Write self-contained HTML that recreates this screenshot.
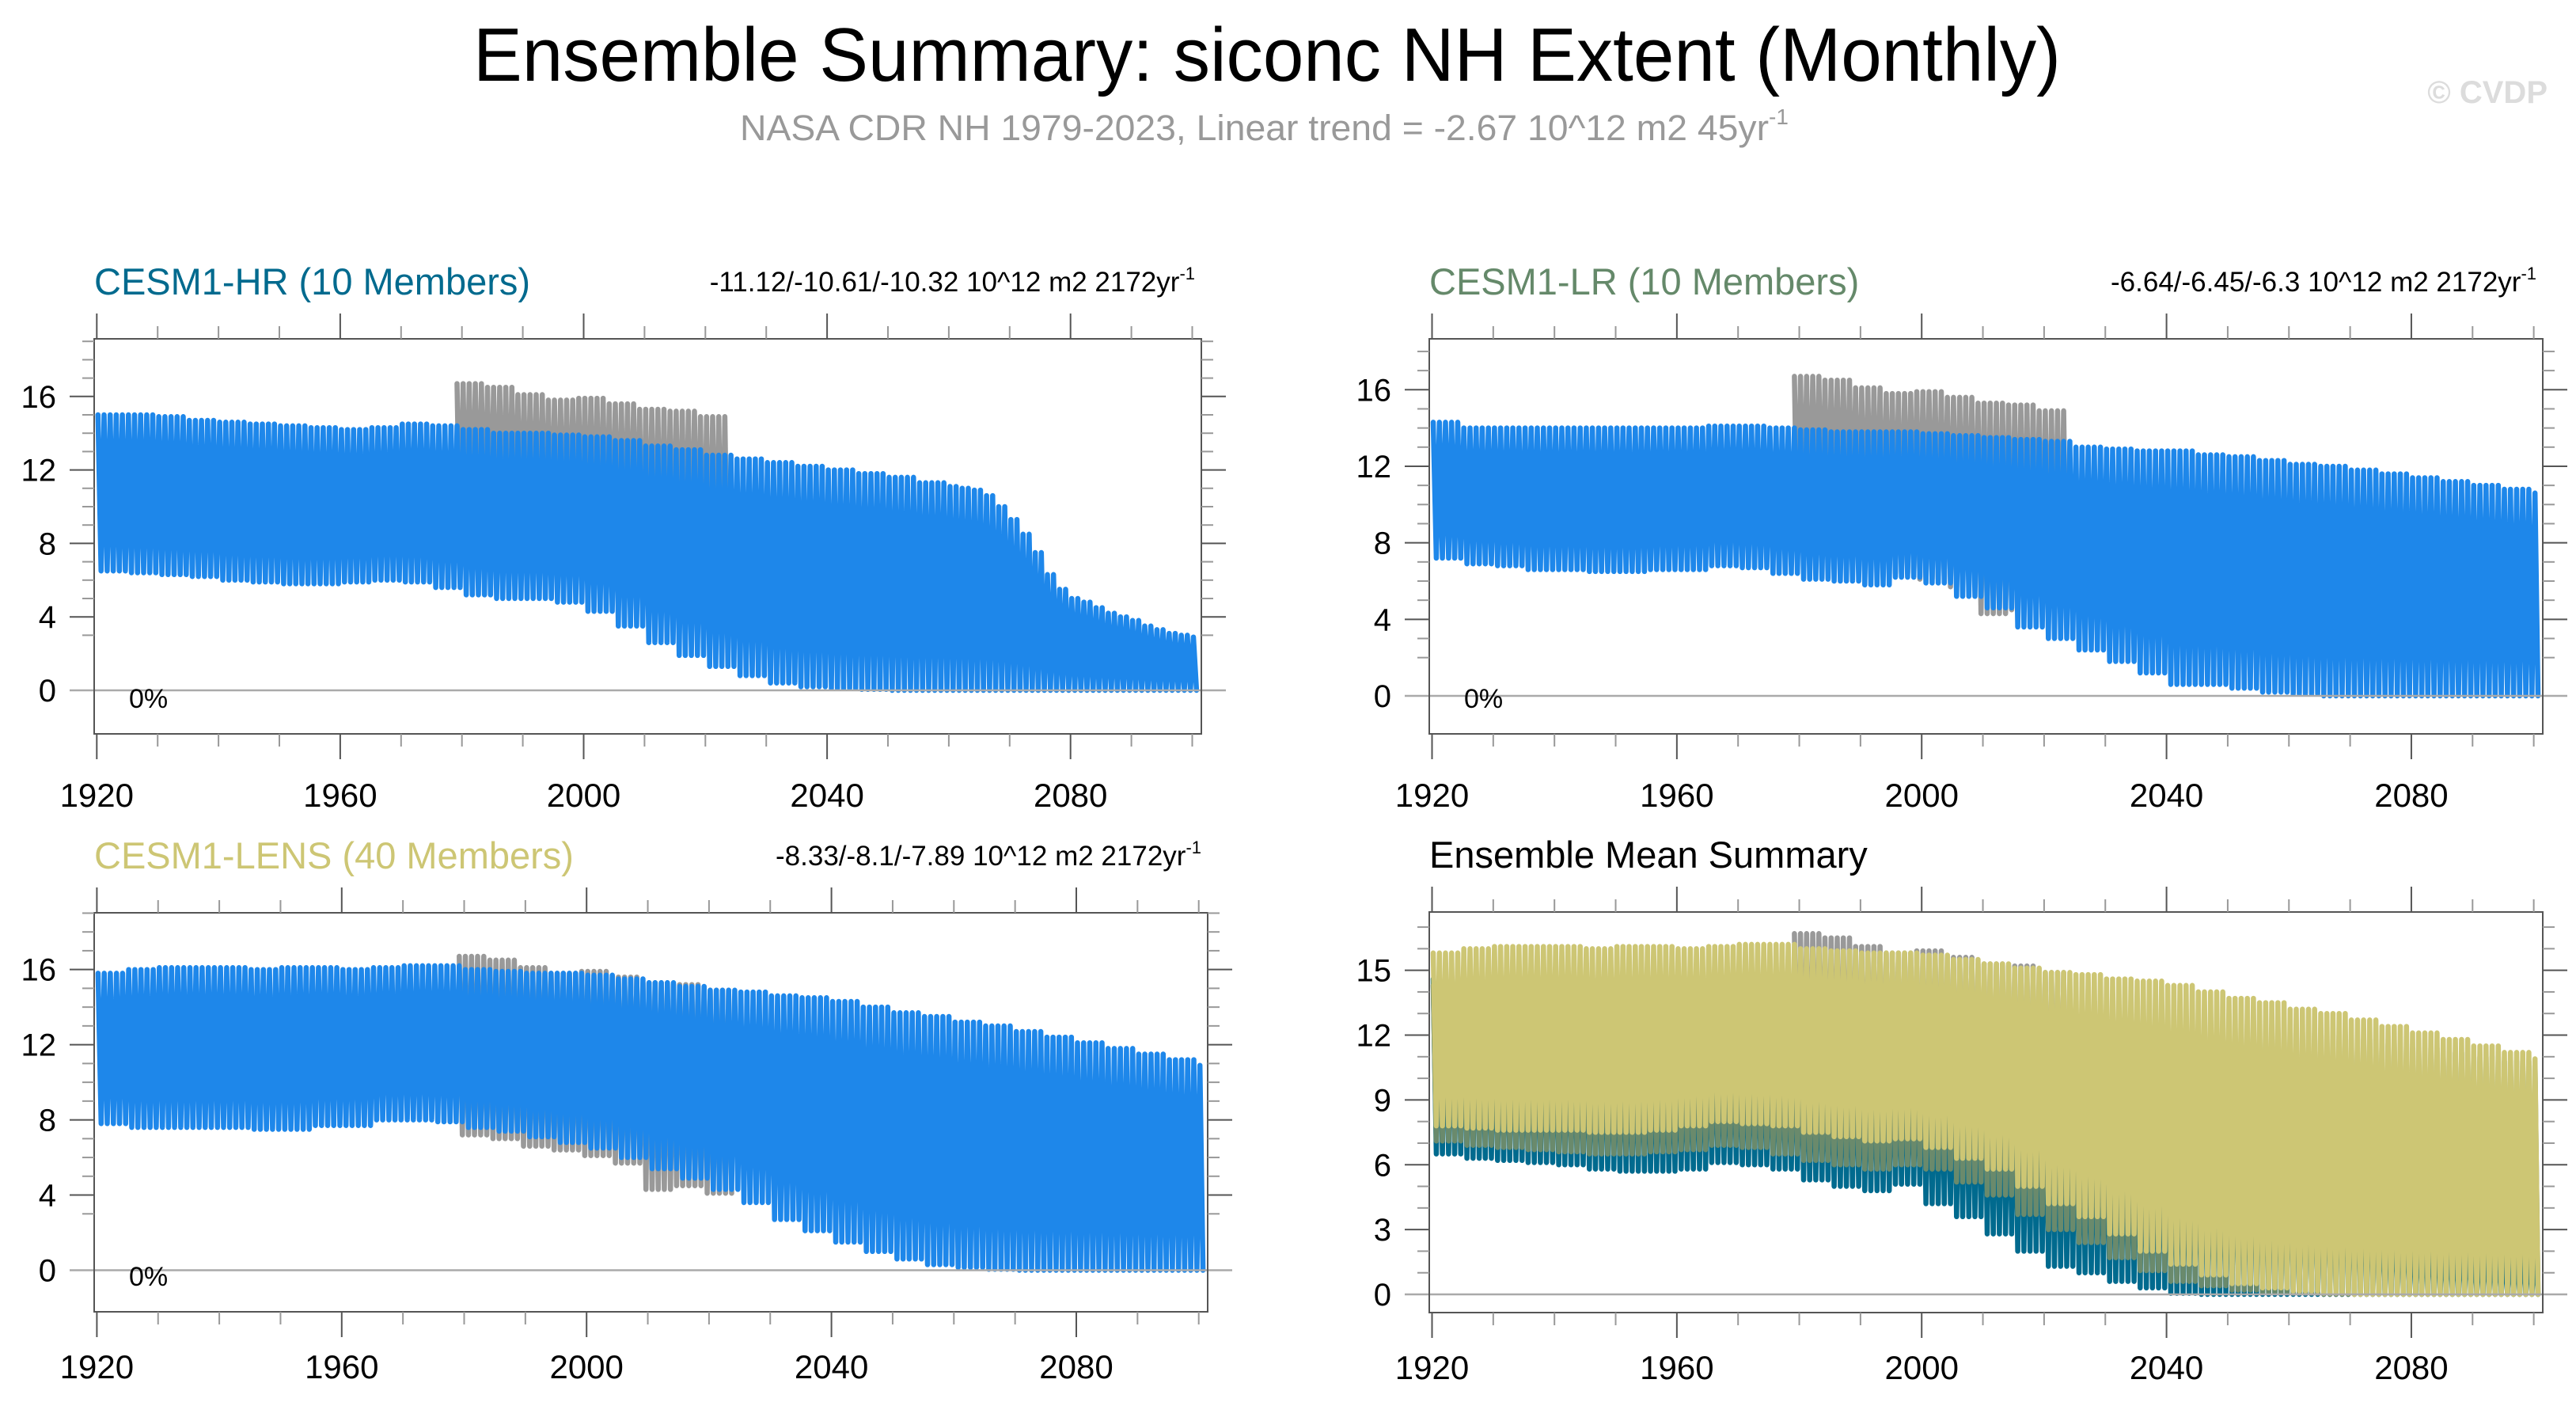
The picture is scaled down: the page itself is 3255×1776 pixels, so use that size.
<!DOCTYPE html>
<html><head><meta charset="utf-8"><title>Ensemble Summary: siconc NH Extent (Monthly)</title>
<style>
html,body{margin:0;padding:0;background:#fff;}
svg{display:block;font-family:"Liberation Sans",Arial,sans-serif;}
</style></head>
<body>
<svg id="chart" xmlns="http://www.w3.org/2000/svg" width="3255" height="1776" viewBox="0 0 3255 1776">
<rect x="0" y="0" width="3255" height="1776" fill="#fff"/>
<text x="598" y="102" font-size="96" textLength="2006" lengthAdjust="spacingAndGlyphs" fill="#000">Ensemble Summary: siconc NH Extent (Monthly)</text>
<text x="935" y="177" font-size="45" fill="#999"><tspan textLength="1300" lengthAdjust="spacingAndGlyphs">NASA CDR NH 1979-2023, Linear trend = -2.67 10^12 m2 45yr</tspan><tspan font-size="28" dy="-20">-1</tspan></text>
<text x="3219" y="130" font-size="40" font-weight="bold" text-anchor="end" fill="#dcdcdc">© CVDP</text>
<g id="plots"></g>
</svg>
<script>
// block start years (5-year blocks; final block is 2100 only)
const years = [1920,1925,1930,1935,1940,1945,1950,1955,1960,1965,1970,1975,1980,1985,1990,1995,2000,2005,2010,2015,2020,2025,2030,2035,2040,2045,2050,2055,2060,2065,2070,2075,2080,2085,2090,2095,2100];
// CESM1-HR block start years (finer after 2060)
const hrYears = [1920,1925,1930,1935,1940,1945,1950,1955,1960,1965,1970,1975,1980,1985,1990,1995,2000,2005,2010,2015,2020,2025,2030,2035,2040,2045,2050,2055,2060,2062,2064,2066,2068,2070,2072,2074,2076,2078,2080,2082,2084,2086,2088,2090,2092,2094,2096,2098,2100];
// CESM1-HR annual max / min (10^12 m2)
const hrMax = [15.0,15.0,14.9,14.7,14.6,14.5,14.4,14.3,14.2,14.3,14.5,14.4,14.2,14.0,14.0,13.9,13.8,13.6,13.3,13.1,12.8,12.6,12.4,12.2,12.0,11.8,11.6,11.3,11.1,11.0,10.9,10.6,10.0,9.3,8.5,7.5,6.3,5.5,5.0,4.8,4.5,4.2,4.0,3.8,3.5,3.3,3.1,3.0,2.9];
const hrMin = [6.5,6.4,6.3,6.2,6.0,5.9,5.8,5.8,5.9,6.0,5.9,5.6,5.2,5.0,5.0,4.8,4.3,3.5,2.6,1.9,1.3,0.8,0.4,0.2,0.1,0.05,0,0,0,0,0,0,0,0,0,0,0,0,0,0,0,0,0,0,0,0,0,0,0];
// CESM1-LR
const lrMax = [14.3,14.0,14.0,14.0,14.0,14.0,14.0,14.0,14.0,14.1,14.1,14.0,13.9,13.8,13.8,13.8,13.7,13.6,13.5,13.4,13.3,13.0,12.9,12.8,12.8,12.6,12.5,12.3,12.1,12.0,11.8,11.6,11.4,11.2,11.0,10.8,10.6];
const lrMin = [7.2,6.9,6.8,6.6,6.6,6.5,6.5,6.6,6.6,6.8,6.7,6.4,6.1,6.0,5.8,6.2,5.9,5.2,4.6,3.6,3.0,2.4,1.8,1.2,0.6,0.6,0.4,0.2,0.1,0,0,0,0,0,0,0,0];
// CESM1-LENS
const lensMax = [15.8,16.0,16.1,16.1,16.1,16.0,16.1,16.1,16.0,16.1,16.2,16.2,16.0,15.9,15.8,15.8,15.7,15.5,15.3,15.1,14.9,14.8,14.6,14.5,14.3,14.0,13.7,13.5,13.2,13.0,12.7,12.4,12.1,11.8,11.5,11.2,10.9];
const lensMin = [7.8,7.6,7.6,7.6,7.6,7.5,7.5,7.7,7.7,8.0,8.0,7.9,7.6,7.4,7.1,6.8,6.5,6.0,5.4,4.9,4.3,3.6,2.7,2.1,1.5,1.0,0.6,0.3,0.15,0.05,0,0,0,0,0,0,0];
// ensemble-mean values (summary panel)
const hrMeanMax = [14.6,14.6,14.5,14.4,14.3,14.2,14.1,14.0,14.0,14.1,14.2,14.1,13.9,13.8,13.7,13.6,13.5,13.3,13.0,12.8,12.5,12.3,12.1,11.9,11.7,11.5,11.3,11.0,10.8,10.0,8.5,6.5,5.0,4.2,3.6,3.1,2.8];
const hrMeanMin = [6.5,6.3,6.2,6.1,6.0,5.8,5.7,5.7,5.8,6.1,6.0,5.8,5.3,5.0,4.8,5.1,4.2,3.6,2.8,2.0,1.3,1.0,0.6,0.3,0.05,0,0,0,0,0,0,0,0,0,0,0,0];
const lrMeanMin = [7.1,6.9,6.8,6.7,6.6,6.5,6.5,6.6,6.7,6.9,6.8,6.5,6.2,6.0,5.8,6.0,5.8,5.2,4.6,3.7,3.0,2.4,1.7,1.1,0.6,0.4,0.2,0.1,0.05,0,0,0,0,0,0,0,0];
const lensMeanMin = [7.8,7.7,7.6,7.6,7.6,7.5,7.5,7.6,7.8,8.0,7.9,7.8,7.5,7.3,7.1,7.2,6.8,6.3,5.8,5.0,4.2,3.6,2.8,2.0,1.4,0.9,0.5,0.3,0.15,0.05,0,0,0,0,0,0,0];
// observations NASA CDR 1979-2023 (5-year blocks; last block 2019-2023)
const obsYears = [1979,1984,1989,1994,1999,2004,2009,2014,2019];
const obsMax = [16.7,16.5,16.1,15.8,15.9,15.6,15.3,15.2,14.9];
const obsMin = [7.2,7.0,6.6,6.4,6.1,5.7,4.3,4.5,4.1];
const yTicks4 = [0,4,8,12,16];
const yTicks3 = [0,3,6,9,12,15];
const xTicks = [1920,1960,2000,2040,2080];

const NS = "http://www.w3.org/2000/svg";
const root = document.getElementById('plots');
function mk(tag, attrs, parent){
  const e = document.createElementNS(NS, tag);
  for (const k in attrs) e.setAttribute(k, attrs[k]);
  (parent||root).appendChild(e);
  return e;
}

const panels = [
  {key:'hr', left:119, right:1518, top:428, bottom:927, x0:122.3, pxYr:7.69, y0:872, pxU:23.2, ticks:yTicks4, xlab:92,
   title:'CESM1-HR (10 Members)', tcol:'#006a8e', stat:'-11.12/-10.61/-10.32 10^12 m2 2172yr',
   series:[{yrs:hrYears, mx:hrMax, mn:hrMin, col:'#1e87ea'}], pct:true},
  {key:'lr', left:1806, right:3213, top:428, bottom:927, x0:1809.5, pxYr:7.734, y0:879, pxU:24.17, ticks:yTicks4, xlab:92,
   title:'CESM1-LR (10 Members)', tcol:'#65896a', stat:'-6.64/-6.45/-6.3 10^12 m2 2172yr',
   series:[{yrs:years, mx:lrMax, mn:lrMin, col:'#1e87ea'}], pct:true},
  {key:'lens', left:119, right:1526, top:1153, bottom:1657, x0:122.4, pxYr:7.735, y0:1604.5, pxU:23.74, ticks:yTicks4, xlab:84,
   title:'CESM1-LENS (40 Members)', tcol:'#cdc674', stat:'-8.33/-8.1/-7.89 10^12 m2 2172yr',
   series:[{yrs:years, mx:lensMax, mn:lensMin, col:'#1e87ea'}], pct:true},
  {key:'mean', left:1806, right:3213, top:1152, bottom:1658, x0:1809.5, pxYr:7.734, y0:1635, pxU:27.29, ticks:yTicks3, xlab:84,
   title:'Ensemble Mean Summary', tcol:'#000', stat:null,
   series:[{yrs:years, mx:hrMeanMax, mn:hrMeanMin, col:'#006a8e'},{yrs:years, mx:lrMax, mn:lrMeanMin, col:'#6a8a6c'},{yrs:years, mx:lensMax, mn:lensMeanMin, col:'#cdc674'}], pct:false}
];

function zig(starts, mx, mn, lastYear, X, Y){
  let pts = [];
  for (let i=0;i<starts.length;i++){
    const end = (i+1<starts.length) ? starts[i+1] : lastYear+1;
    for (let yr=starts[i]; yr<end; yr++){
      pts.push(X(yr+0.2).toFixed(1)+','+Y(mx[i]).toFixed(1));
      pts.push(X(yr+0.7).toFixed(1)+','+Y(mn[i]).toFixed(1));
    }
  }
  return pts.join(' ');
}

panels.forEach(p=>{
  const g = mk('g',{});
  
  
  const X = yr => p.x0 + (yr-1920)*p.pxYr;
  const Y = v => p.y0 - v*p.pxU;
  const vMin = (p.y0-p.bottom)/p.pxU*-1, vMax = (p.y0-p.top)/p.pxU;

  const t = mk('text',{x:p.left, y:p.top-56, 'font-size':47, fill:p.tcol}, g);
  t.textContent = p.title;
  
  
  if (p.stat){
    const s = mk('text',{x:p.right-8, y:p.top-60, 'font-size':35, 'text-anchor':'end', fill:'#000'}, g);
    s.textContent = p.stat;
    const sup = mk('tspan',{'font-size':22, dy:-15}, s);
    sup.textContent = '-1';
    
    
  }

  const cid = 'clip-'+p.key;
  const cp = mk('clipPath',{id:cid}, g);
  mk('rect',{x:p.left, y:p.top, width:p.right-p.left, height:p.bottom-p.top}, cp);
  const dg = mk('g',{'clip-path':'url(#'+cid+')'}, g);

  const zl = mk('line',{x1:p.left-31, x2:p.right+31, y1:Y(0), y2:Y(0), stroke:'#aaa', 'stroke-width':2.5}, g);
  
  

  const ob = mk('polyline',{points:zig(obsYears, obsMax, obsMin, 2023, X, Y), fill:'none', stroke:'#999', 'stroke-width':6.5, 'stroke-linejoin':'round', 'stroke-linecap':'round'}, dg);
  
  

  p.series.forEach((s,si)=>{
    const pl = mk('polyline',{points:zig(s.yrs, s.mx, s.mn, 2100, X, Y), fill:'none', stroke:s.col, 'stroke-width':6.5, 'stroke-linejoin':'round', 'stroke-linecap':'round'}, dg);
    
    
  });

  const bx = mk('rect',{x:p.left, y:p.top, width:p.right-p.left, height:p.bottom-p.top, fill:'none', stroke:'#555', 'stroke-width':2}, g);
  
  

  for (let v=Math.ceil(vMin); v<=vMax; v++){
    const maj = p.ticks.indexOf(v)>=0;
    const L = maj?31:15, yy = Y(v);
    mk('line',{x1:p.left-L, x2:p.left, y1:yy, y2:yy, stroke:maj?'#555':'#999', 'stroke-width':2}, g);
    mk('line',{x1:p.right, x2:p.right+L, y1:yy, y2:yy, stroke:maj?'#555':'#999', 'stroke-width':2}, g);
  }
  p.ticks.forEach(v=>{
    const tl = mk('text',{x:p.left-48, y:Y(v)+14, 'font-size':40, 'text-anchor':'end', fill:'#000'}, g);
    tl.textContent = v;
    
    
  });
  for (let yr=1920; yr<=2100; yr+=10){
    const maj = xTicks.indexOf(yr)>=0;
    const L = maj?32:16, xx = X(yr);
    mk('line',{x1:xx, x2:xx, y1:p.top-L, y2:p.top, stroke:maj?'#555':'#999', 'stroke-width':2}, g);
    mk('line',{x1:xx, x2:xx, y1:p.bottom, y2:p.bottom+L, stroke:maj?'#555':'#999', 'stroke-width':2}, g);
  }
  xTicks.forEach(yr=>{
    const tl = mk('text',{x:X(yr), y:p.bottom+p.xlab, 'font-size':42, 'text-anchor':'middle', fill:'#000'}, g);
    tl.textContent = yr;
    
    
  });
  if (p.pct){
    const pc = mk('text',{x:p.left+44, y:p.bottom-33, 'font-size':34, fill:'#000'}, g);
    pc.textContent = '0%';
    
    
  }
});
</script>
</body></html>
